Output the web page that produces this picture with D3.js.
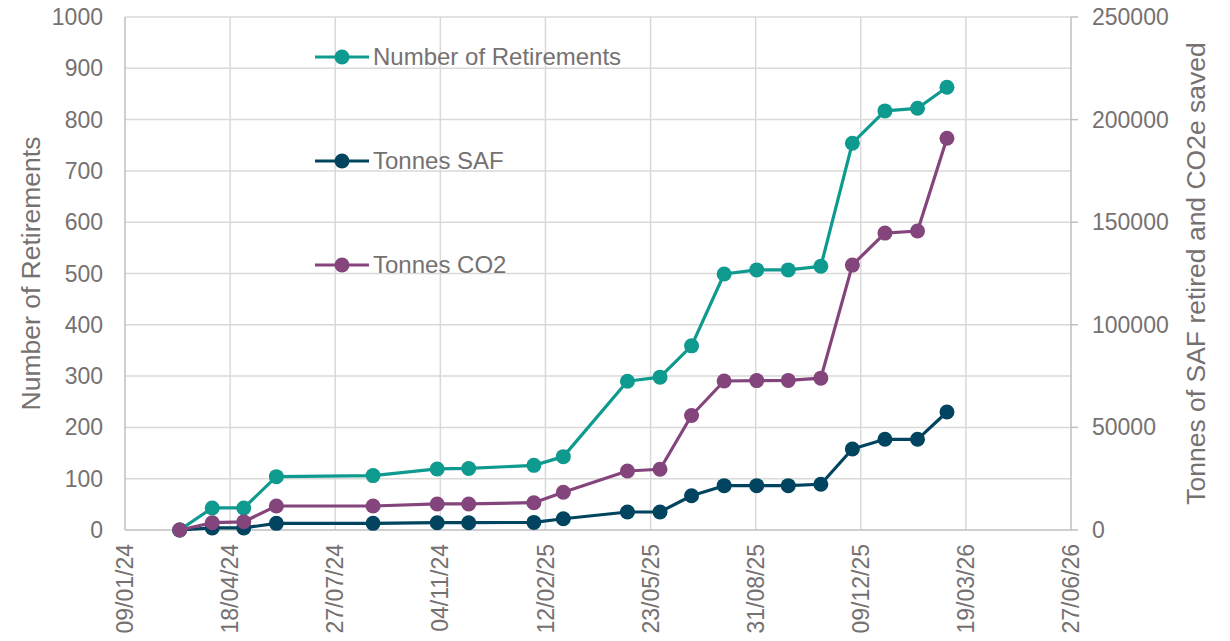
<!DOCTYPE html>
<html><head><meta charset="utf-8">
<script src="https://cdn.jsdelivr.net/npm/d3@7"></script>
<style>body{margin:0;background:#fff}svg{display:block;font-family:"Liberation Sans",Arial,sans-serif}</style>
</head><body><svg id="c" width="1230" height="641"></svg>
<script>
const dates = ["2024-03-01","2024-04-01","2024-05-01","2024-06-01","2024-09-01","2024-11-01","2024-12-01","2025-02-01","2025-03-01","2025-05-01","2025-06-01","2025-07-01","2025-08-01","2025-09-01","2025-10-01","2025-11-01","2025-12-01","2026-01-01","2026-02-01","2026-03-01"];
const retirements = [0,43,43,104,106,119,120,126,143,290,298,359,499,507,507,514,754,817,822,863];
const tonnesSAF = [0,1000,1000,3250,3250,3560,3560,3700,5500,8770,8800,16700,21600,21600,21600,22300,39500,44200,44200,57500];
const tonnesCO2 = [0,3550,4000,11700,11700,12700,12700,13300,18400,28750,29600,55800,72600,72800,72900,74000,129100,144700,145700,190900];
const xTickLabels = ["09/01/24","18/04/24","27/07/24","04/11/24","12/02/25","23/05/25","31/08/25","09/12/25","19/03/26","27/06/26"];
const leftTicks = [0,100,200,300,400,500,600,700,800,900,1000];
const rightTicks = [0,50000,100000,150000,200000,250000];
const seriesNames = ["Number of Retirements","Tonnes SAF","Tonnes CO2"];
const colors = ["#0E9A8F","#00445F","#84457D"];

const parse = d3.timeParse("%d/%m/%y");
const parseISO = d3.timeParse("%Y-%m-%d");
const tickDates = xTickLabels.map(parse);
const L=125,R=1071,T=17,B=530;
const svg = d3.select("#c");
const x = d3.scaleTime().domain([tickDates[0], tickDates[tickDates.length-1]]).range([L,R]);
const yL = d3.scaleLinear().domain([0,1000]).range([B,T]);
const yR = d3.scaleLinear().domain([0,250000]).range([B,T]);
const txt = "#767171";

// grid
svg.append("g").selectAll("line").data(leftTicks.slice(1)).join("line")
  .attr("x1",L).attr("x2",R).attr("y1",d=>yL(d)).attr("y2",d=>yL(d))
  .attr("stroke","#d9d9d9").attr("stroke-width",1.5);
svg.append("g").selectAll("line").data(tickDates.slice(1,-1)).join("line")
  .attr("x1",d=>x(d)).attr("x2",d=>x(d)).attr("y1",T).attr("y2",B)
  .attr("stroke","#d9d9d9").attr("stroke-width",1.5);
// axes lines
svg.append("line").attr("x1",L).attr("x2",L).attr("y1",T).attr("y2",B).attr("stroke","#bfbfbf").attr("stroke-width",1.5);
svg.append("line").attr("x1",L).attr("x2",R).attr("y1",B).attr("y2",B).attr("stroke","#bfbfbf").attr("stroke-width",1.5);
svg.append("line").attr("x1",R).attr("x2",R).attr("y1",T).attr("y2",B).attr("stroke","#bfbfbf").attr("stroke-width",1.5);
svg.append("g").selectAll("line").data(rightTicks).join("line")
  .attr("x1",R).attr("x2",R+7).attr("y1",d=>yR(d)).attr("y2",d=>yR(d)).attr("stroke","#bfbfbf").attr("stroke-width",1.5);

// tick labels
svg.append("g").selectAll("text").data(leftTicks).join("text")
  .attr("x",L-22).attr("y",d=>yL(d)).attr("dy","0.35em").attr("text-anchor","end")
  .attr("font-size",23).attr("fill",txt).text(d=>d);
svg.append("g").selectAll("text").data(rightTicks).join("text")
  .attr("x",R+21).attr("y",d=>yR(d)).attr("dy","0.35em").attr("text-anchor","start")
  .attr("font-size",23).attr("fill",txt).text(d=>d);
svg.append("g").selectAll("text").data(xTickLabels).join("text")
  .attr("transform",(d,i)=>`translate(${x(tickDates[i])},${B+14}) rotate(-90)`)
  .attr("dy","0.35em").attr("text-anchor","end")
  .attr("font-size",23).attr("fill",txt).text(d=>d);

// axis titles
svg.append("text").attr("transform",`translate(40,${(T+B)/2}) rotate(-90)`).attr("text-anchor","middle")
  .attr("font-size",26.5).attr("fill",txt).text("Number of Retirements");
svg.append("text").attr("transform",`translate(1205,${(T+B)/2}) rotate(-90)`).attr("text-anchor","middle")
  .attr("font-size",26.5).attr("fill",txt).text("Tonnes of SAF retired and CO2e saved");

// series
const ds = dates.map(parseISO);
const series = [
  {vals: retirements, y: yL},
  {vals: tonnesSAF, y: yR},
  {vals: tonnesCO2, y: yR}
];
const order = [1,0,2];
order.forEach(si=>{
  const s = series[si];
  const pts = s.vals.map((v,i)=>[x(ds[i]), s.y(v)]);
  svg.append("path").attr("d",d3.line()(pts)).attr("fill","none").attr("stroke",colors[si]).attr("stroke-width",3.2).attr("stroke-linejoin","round");
  svg.append("g").selectAll("circle").data(pts).join("circle")
    .attr("cx",d=>d[0]).attr("cy",d=>d[1]).attr("r",7.5).attr("fill",colors[si]);
});

// legend
const legY = [57,161,265];
seriesNames.forEach((n,i)=>{
  const g = svg.append("g");
  g.append("line").attr("x1",315).attr("x2",369).attr("y1",legY[i]).attr("y2",legY[i]).attr("stroke",colors[i]).attr("stroke-width",3.2);
  g.append("circle").attr("cx",342).attr("cy",legY[i]).attr("r",7.5).attr("fill",colors[i]);
  g.append("text").attr("x",373).attr("y",legY[i]).attr("dy","0.35em").attr("font-size",24).attr("fill",txt).text(n);
});
</script></body></html>
